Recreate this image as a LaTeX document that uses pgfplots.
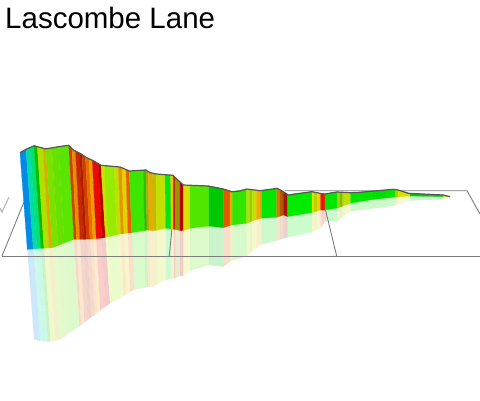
\documentclass[border=0pt]{standalone}
\usepackage{pgfplots}
\pgfplotsset{compat=1.18}
\usepackage{fontspec}
\setmainfont{Liberation Sans}
\definecolor{gridc}{RGB}{125,125,125}
\definecolor{outl}{RGB}{85,85,85}
\definecolor{chk}{RGB}{185,185,185}
% state: previous edge
\newcommand\Start[6]{\xdef\pxt{#1}\xdef\pt{#2}\xdef\pxb{#3}\xdef\pb{#4}\xdef\pxr{#5}\xdef\pr{#6}}
\newcommand\EM[9]{\edef\tmp{\noexpand\addplot[forget plot,draw={rgb,255:red,#1;green,#2;blue,#3},line width=0.25pt,fill={rgb,255:red,#1;green,#2;blue,#3}] coordinates {(\pxt,\pt)(#4,#5)(#6,#7)(\pxb,\pb)} --cycle;}\tmp
 \xdef\pxt{#4}\xdef\pt{#5}\xdef\pxb{#6}\xdef\pb{#7}\xdef\pxr{#8}\xdef\pr{#9}}
\newcommand\ER[9]{\edef\tmp{\noexpand\addplot[forget plot,draw=none,fill opacity=0.2,fill={rgb,255:red,#1;green,#2;blue,#3}] coordinates {(\pxb,\pb)(#6,#7)(#8,#9)(\pxr,\pr)} --cycle;}\tmp
 \xdef\pxt{#4}\xdef\pt{#5}\xdef\pxb{#6}\xdef\pb{#7}\xdef\pxr{#8}\xdef\pr{#9}}
\newcommand\Data{%
\Start{20}{152.7}{27.3}{249.3}{34}{339.3}%
\E{0}{140}{230}{26}{149.3}{33.3}{249}{40}{341}%
\E{0}{220}{170}{30}{147.5}{37}{248.7}{44}{341.3}%
\E{0}{225}{120}{34}{145.8}{41}{248.3}{48}{341.6}%
\E{0}{190}{0}{37.3}{146.7}{44}{248.2}{50.5}{341.7}%
\E{175}{225}{0}{43}{148.2}{49}{247.9}{55.5}{340.6}%
\E{215}{175}{0}{45.7}{148.6}{52.5}{247.7}{59}{340}%
\E{125}{225}{0}{51.7}{148}{58}{245.5}{64}{337}%
\E{105}{225}{0}{58.3}{146.7}{64.3}{243}{70}{332.7}%
\E{90}{230}{0}{68.7}{145.3}{74}{239.3}{79.5}{326}%
\E{200}{70}{0}{72}{148.7}{76.5}{239.3}{81}{325}%
\E{235}{140}{0}{75.5}{151}{80}{239.3}{84.5}{322.4}%
\E{200}{40}{0}{79.5}{153}{84}{239.3}{88.5}{319.4}%
\E{170}{30}{0}{82}{154.9}{86.5}{239.1}{91}{317.5}%
\E{210}{60}{0}{85.5}{157}{90}{239}{94.5}{315}%
\E{230}{110}{0}{89}{158.7}{93}{238.8}{97}{312.6}%
\E{235}{160}{0}{92.3}{160.2}{96.3}{238.6}{100.3}{310.5}%
\E{235}{10}{0}{98.3}{163.7}{101.8}{238}{105.3}{306.8}%
\E{190}{0}{0}{101}{165.3}{105.5}{237.5}{110}{303.7}%
\E{205}{225}{0}{104.3}{165.6}{107.8}{236.8}{111.5}{302.7}%
\E{150}{235}{0}{114.3}{166.5}{117}{234.7}{120}{298}%
\E{190}{225}{0}{118.3}{166.9}{121}{233.9}{123.5}{296.2}%
\E{230}{150}{0}{122}{168}{124}{233.7}{126.5}{294.2}%
\E{225}{210}{0}{126}{169.6}{128}{233}{130}{292}%
\E{235}{95}{0}{129.3}{171}{131.7}{232.7}{134}{289.9}%
\E{60}{230}{0}{143.3}{170.1}{144.5}{230.5}{145.5}{287.3}%
\E{40}{195}{0}{146}{170}{147}{230}{148}{287}%
\E{170}{170}{0}{148.3}{171.6}{149}{230.2}{150}{286.8}%
\E{230}{170}{0}{152.7}{173.2}{153.3}{230.6}{154}{286.4}%
\E{190}{190}{0}{156}{174}{156.7}{230.3}{157.3}{284}%
\E{195}{225}{0}{165}{174.7}{165.7}{228.3}{166}{280}%
\E{0}{230}{30}{170.7}{175.1}{171}{228.9}{171.2}{279}%
\E{230}{200}{0}{173.3}{175.9}{173.5}{229.2}{173.7}{278.6}%
\E{200}{20}{0}{175}{177.4}{175.2}{229.3}{175.4}{278.2}%
\E{150}{150}{0}{180}{182}{180}{230.6}{180}{276}%
\E{190}{0}{0}{183.3}{185}{183.3}{230.5}{183.3}{276}%
\E{215}{225}{0}{190}{185.3}{190}{228.3}{190}{270.6}%
\E{80}{230}{0}{209}{186}{209}{226.1}{209}{265.3}%
\E{0}{200}{0}{223.3}{189}{223.3}{227.7}{223.3}{266.7}%
\E{225}{90}{0}{230}{191.2}{230}{225.5}{230}{261.7}%
\E{235}{170}{0}{232.3}{191.7}{232.3}{225}{232.3}{260.7}%
\E{50}{230}{0}{246.7}{189}{246.7}{223.3}{246.7}{256}%
\E{170}{225}{0}{250}{189.4}{250}{222}{250}{253.2}%
\E{150}{205}{0}{252.3}{189.7}{252.3}{221}{252.3}{251.3}%
\E{195}{225}{0}{256.7}{190.3}{256.7}{219.5}{256.7}{247.8}%
\E{240}{170}{0}{259.3}{190.6}{259.3}{218.6}{259.3}{245.6}%
\E{225}{170}{0}{261.7}{190.5}{261.7}{218.2}{261.7}{244.7}%
\E{0}{230}{0}{276.7}{188.4}{276.7}{217.3}{276.7}{240.7}%
\E{205}{125}{0}{280}{189.9}{280}{216.2}{280}{239.6}%
\E{175}{90}{0}{283.3}{191.7}{283.3}{215}{283.3}{238.4}%
\E{165}{20}{0}{287.7}{194.6}{287.7}{216.5}{287.7}{237.4}%
\E{0}{235}{0}{312}{191.7}{312}{212.6}{312}{232.3}%
\E{225}{225}{0}{314}{192}{314}{212.1}{314}{231.5}%
\E{190}{210}{0}{317.3}{192.7}{317.3}{211}{317.3}{229.5}%
\E{230}{210}{0}{320.7}{193.4}{320.7}{210}{320.7}{227.5}%
\E{240}{20}{0}{325}{194}{325}{210}{325}{221.7}%
\E{0}{230}{0}{337.7}{192}{337.7}{208}{337.7}{221}%
\E{160}{215}{0}{340}{192.2}{340}{207}{340}{219}%
\E{130}{190}{0}{342.7}{192.3}{342.7}{206}{342.7}{217}%
\E{180}{215}{0}{344}{192.4}{344}{205.5}{344}{216}%
\E{190}{225}{0}{350.7}{192.7}{350.7}{203.2}{350.7}{211.5}%
\E{0}{230}{0}{373}{191}{373}{199.5}{373}{208.5}%
\E{0}{222}{0}{386}{190}{386}{198}{386}{207}%
\E{0}{230}{0}{395}{189.4}{395}{197.2}{395}{205.5}%
\E{150}{210}{0}{398}{190}{398}{196.9}{398}{204}%
\E{215}{225}{0}{410}{193.6}{410}{196}{410}{200.7}%
\E{0}{200}{0}{443}{195}{443}{196.7}{443}{199.3}%
\E{200}{220}{0}{450}{196.7}{450}{196.7}{450}{197.3}%
}
\begin{document}
\begin{tikzpicture}
\path[use as bounding box] (0,0) rectangle (480pt,400pt);
\begin{axis}[
  at={(0,0)},anchor=south west,
  scale only axis,width=480pt,height=400pt,
  xmin=0,xmax=480,ymin=0,ymax=400,y dir=reverse,
  hide axis,clip=true]
\let\E\ER
\Data
% floor grid
\addplot[forget plot,color=gridc,line width=0.9pt] coordinates {(2,256)(480,256)};
\addplot[forget plot,color=gridc,line width=0.9pt] coordinates {(2,256)(24,202)};
\addplot[forget plot,color=gridc,line width=0.9pt] coordinates {(169.3,256)(172,228)};
\addplot[forget plot,color=gridc,line width=0.9pt] coordinates {(336.7,256)(325,208)};
\addplot[forget plot,color=gridc,line width=0.9pt] coordinates {(285,190.7)(467,190.7)(480,214)};
\addplot[forget plot,color=chk,line width=1.2pt] coordinates {(0,208)(2,212)(9,197)};
\let\E\EM
\Data
% top outline
\addplot[forget plot,color=outl,line width=1.2pt] coordinates {
(20,152.7)(26.7,149)(34.3,145.7)(37.3,146.7)(45,148.7)(51.7,148)(58.3,146.7)(68.7,145.3)(73.3,150)(80,153.3)(86.7,157.7)(93.3,160.7)(101,165.3)(120,167)(129.3,171)(146,170)(150,172.7)(156.7,174)(172.7,175.3)(183.3,185)(208.3,186)(223.3,189)(231.7,191.7)(240,191)(246.7,189)(260,190.7)(277.3,188.3)(283.3,191.7)(288.3,195)(311.7,191.7)(320,193.3)(325,194)(336.7,192)(350,192.7)(360,192.3)(393.3,189.3)(398.3,190)(408.3,193.3)(443.3,195)(450,196.7)};
\node[anchor=base west,inner sep=0pt,font=\fontsize{29.5}{29.5}\selectfont] at (axis cs:5,28) {Lascombe Lane};
\end{axis}
\end{tikzpicture}
\end{document}
